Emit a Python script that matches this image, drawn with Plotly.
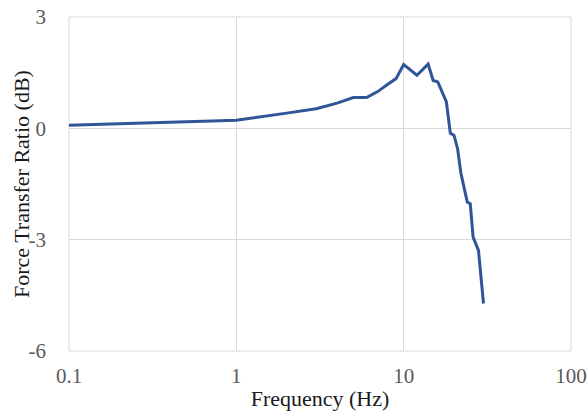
import plotly.graph_objects as go

freq_hz = [0.1, 1, 2, 3, 4, 5, 6, 7, 8, 9, 10, 12, 14, 15, 16, 18, 19, 20, 21, 22, 24, 25, 26, 28, 30]
ratio_db = [0.08, 0.22, 0.41, 0.53, 0.68, 0.83, 0.83, 0.99, 1.18, 1.34, 1.72, 1.43, 1.73, 1.29, 1.25, 0.71,
            -0.13, -0.19, -0.55, -1.22, -1.99, -2.03, -2.93, -3.29, -4.72]

x_ticks = [0.1, 1, 10, 100]
x_tick_labels = ["0.1", "1", "10", "100"]
y_ticks = [3, 0, -3, -6]
y_tick_labels = ["3", "0", "-3", "-6"]
x_title = "Frequency (Hz)"
y_title = "Force Transfer Ratio (dB)"

FONT = "Liberation Serif"
GRID = "#d9d9d9"
tickfont = dict(family=FONT, size=21, color="#595959")
titlefont = dict(family=FONT, size=22, color="#1a1a1a")

fig = go.Figure()
fig.add_trace(go.Scatter(x=freq_hz, y=ratio_db, mode="lines",
                         line=dict(color="#2F5597", width=3), showlegend=False))

fig.update_layout(
    width=588, height=417,
    margin=dict(l=69, r=17, t=17, b=66, autoexpand=False),
    paper_bgcolor="white", plot_bgcolor="white",
    font=dict(family=FONT, size=21, color="#595959"),
    xaxis=dict(type="log", range=[-1, 2], tickvals=x_ticks, ticktext=x_tick_labels,
               showgrid=True, gridcolor=GRID, gridwidth=1, showline=False, zeroline=False,
               ticks="", ticklabelstandoff=10, automargin=False, tickfont=tickfont,
               ticklabeloverflow="allow",
               title=dict(text=x_title, font=titlefont, standoff=3)),
    yaxis=dict(range=[-6, 3], tickvals=y_ticks, ticktext=y_tick_labels,
               showgrid=True, gridcolor=GRID, gridwidth=1, showline=False, zeroline=False,
               ticks="", ticklabelstandoff=22, automargin=False, tickfont=tickfont,
               ticklabeloverflow="allow"),
)
fig.add_annotation(text=y_title, xref="paper", yref="paper", x=0, y=0.5,
                   xanchor="center", yanchor="middle", xshift=-48, textangle=-90,
                   showarrow=False, font=titlefont)
fig.add_shape(type="rect", xref="paper", yref="paper", x0=0, y0=0, x1=1, y1=1,
              line=dict(color=GRID, width=1), layer="below")

# Remove the browser's default 8px body margin so the figure fills the window exactly.
fig.write_html("out.html", config={"displayModeBar": False},
               post_script="document.body.style.margin='0';document.body.style.overflow='hidden';")
